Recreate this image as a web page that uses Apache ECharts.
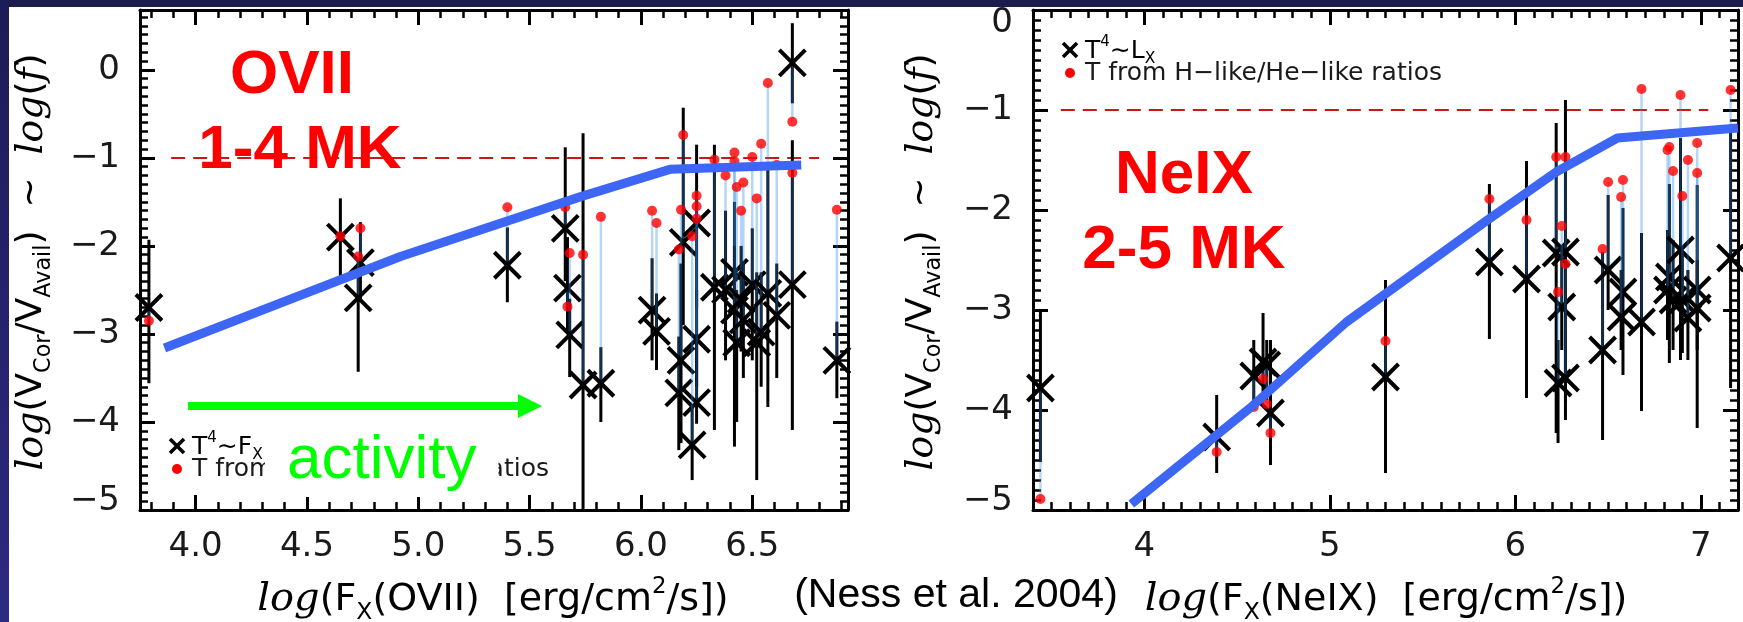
<!DOCTYPE html>
<html>
<head>
<meta charset="utf-8">
<title>Coronal filling factors: OVII and NeIX</title>
<script src="https://cdn.jsdelivr.net/npm/echarts@6/dist/echarts.min.js"></script>
<style>
  html, body { margin: 0; padding: 0; background: #ffffff; }
  #chart { width: 1743px; height: 622px; }
</style>
</head>
<body>
<div id="chart"></div>
<script>
// ---- OVII panel: log flux, log filling factor (T^4 ~ Fx), error range, value from line ratios
const oviiX     = [3.79, 4.65, 4.74, 4.73, 5.40, 5.66, 5.67, 5.68, 5.74, 5.82, 6.05, 6.07, 6.17, 6.19, 6.18, 6.25, 6.25, 6.25, 6.23, 6.33, 6.38, 6.42, 6.42, 6.43, 6.46, 6.45, 6.50, 6.52, 6.54, 6.57, 6.61, 6.68, 6.68, 6.88];
const oviiCross = [-2.70, -1.90, -2.19, -2.59, -2.22, -1.80, -2.48, -3.01, -3.58, -3.56, -2.73, -2.97, -3.67, -1.96, -3.30, -1.74, -3.06, -3.78, -4.26, -2.47, -2.50, -2.30, -2.73, -3.10, -2.84, -2.61, -2.44, -3.10, -2.98, -2.54, -2.79, -2.44, 0.08, -3.30];
const oviiErrLo = [-3.56, -2.36, -2.61, -3.43, -2.64, -2.40, -3.00, -3.49, -5.00, -4.00, -3.30, -3.41, -4.32, -2.90, -4.24, -2.70, -3.60, -4.02, -4.66, -4.09, -3.30, -3.00, -4.28, -4.00, -3.50, -3.20, -3.30, -4.66, -3.60, -3.83, -3.50, -4.09, -0.38, -3.73];
const oviiErrHi = [-1.93, -1.46, -1.73, -2.14, -1.79, -0.88, -1.90, -2.60, -0.72, -3.15, -2.14, -2.54, -3.03, -0.43, -2.20, -0.85, -2.50, -3.00, -3.80, -0.85, -1.60, -1.50, -2.00, -2.50, -2.20, -2.00, -1.80, -2.30, -2.30, -1.06, -2.20, -0.80, 0.53, -2.86];
const oviiRatio = [-2.85, -1.89, -1.80, -2.12, -1.56, -1.56, -2.69, -2.08, -2.10, -1.67, -1.60, -1.74, -2.04, -0.74, -1.59, -1.43, -1.55, -1.69, -1.89, -1.02, -1.20, -0.94, -1.04, -1.33, -1.28, -1.60, -0.99, -1.46, -0.84, -0.15, -1.08, -1.17, -0.59, -1.59];
const oviiModelX = [3.86, 4.92, 5.73, 6.13, 6.72];
const oviiModelY = [-3.16, -2.12, -1.44, -1.13, -1.08];
const oviiLimitX = [3.89, 6.80];

// ---- NeIX panel
const neixX     = [3.44, 4.39, 4.64, 4.59, 4.66, 4.68, 5.30, 5.86, 6.06, 6.22, 6.27, 6.25, 6.23, 6.27, 6.47, 6.50, 6.58, 6.57, 6.68, 6.83, 6.82, 6.85, 6.89, 6.90, 6.93, 6.98, 6.98, 7.16];
const neixCross = [-3.78, -4.27, -3.52, -3.66, -3.55, -4.03, -3.67, -2.52, -2.69, -2.43, -2.42, -2.97, -3.73, -3.68, -3.40, -2.60, -2.82, -3.07, -3.12, -2.67, -2.80, -2.90, -2.40, -2.90, -3.08, -2.80, -2.98, -2.48];
const neixErrLo = [-4.52, -4.63, -3.90, -4.00, -3.90, -4.55, -4.63, -3.29, -3.88, -4.23, -3.93, -3.40, -4.33, -4.10, -4.30, -3.00, -3.65, -3.40, -4.01, -3.53, -3.30, -3.40, -3.50, -3.43, -3.50, -4.18, -3.40, -3.78];
const neixErrHi = [-3.02, -3.85, -3.03, -3.30, -3.30, -3.30, -2.70, -1.74, -1.51, -1.13, -0.90, -2.40, -3.30, -3.20, -2.42, -1.85, -1.98, -2.60, -2.23, -1.74, -2.20, -2.30, -1.28, -2.40, -2.60, -1.75, -2.50, -1.20];
const neixRatio = [-4.89, -4.42, -3.69, -3.97, -3.94, -4.23, -3.31, -1.89, -2.10, -1.47, -1.47, -2.16, -2.82, -2.54, -2.39, -1.72, -1.70, -1.87, -0.79, -1.37, -1.40, -1.61, -0.85, -1.86, -1.50, -1.33, -1.63, -0.80];
const neixModelX = [3.93, 4.57, 5.09, 5.85, 6.22, 6.55, 7.20];
const neixModelY = [-4.94, -3.98, -3.12, -2.10, -1.62, -1.28, -1.18];
const neixLimitX = [3.55, 7.04];

const limitY = -1;

// axis ranges and tick steps
const oviiXRange = [3.75, 6.93], oviiXStep = 0.5;
const oviiYRange = [-5, 0.68];
const neixXRange = [3.4, 7.2],   neixXStep = 1;
const neixYRange = [-5, 0];
const yStep = 1;

const SANS = '"DejaVu Sans", "Liberation Sans", sans-serif';
const SERIF = '"DejaVu Serif", "Liberation Serif", serif';
const ARIAL = '"Liberation Sans", Arial, sans-serif';
const INK = '#1a1a1a';

function onStep(v, step) {
  const k = v / step;
  return Math.abs(k - Math.round(k)) < 1e-6;
}
function fmtX1(v) { return onStep(v, oviiXStep) ? v.toFixed(1) : ''; }
function fmtX0(v) { return onStep(v, neixXStep) ? String(Math.round(v)) : ''; }
// y labels: the end labels sit a little inside the frame
function makeFmtY(range) {
  return function (v) {
    if (!onStep(v, yStep)) return '';
    const n = Math.round(v);
    const s = n < 0 ? '\u2212' + Math.abs(n) : String(n);
    if (Math.abs(n - range[0]) < 1e-6) return '{lo|' + s + '}';
    if (Math.abs(n - range[1]) < 1e-6) return '{hi|' + s + '}';
    return s;
  };
}
const labelRich = {
  lo: { fontFamily: SANS, fontSize: 34, color: INK, padding: [0, 0, 18, 0] },
  hi: { fontFamily: SANS, fontSize: 34, color: INK, padding: [26, 0, 0, 0] }
};

// framed IDL-style axis: inward major ticks plus a fine minor comb
function axisBase(range, step, minorSplit, pos, showLabel, fmt, grid) {
  return {
    type: 'value', gridIndex: grid, position: pos,
    min: range[0], max: range[1], minInterval: step, maxInterval: step,
    axisLine: { show: true, onZero: false, lineStyle: { color: '#000', width: 3 } },
    axisTick: { show: true, inside: true, length: 15, lineStyle: { color: '#000', width: 3 } },
    minorTick: { show: true, splitNumber: minorSplit, length: 8, lineStyle: { color: '#000', width: 2.5 } },
    splitLine: { show: false }, minorSplitLine: { show: false },
    axisLabel: { show: showLabel, formatter: fmt, fontFamily: SANS, fontSize: 34, color: INK, margin: 20, rich: labelRich }
  };
}

function renderStar(params, api) {
  const x = api.value(0);
  const c = api.coord([x, api.value(1)]);
  const lo = api.coord([x, api.value(2)]);
  const hi = api.coord([x, api.value(3)]);
  const r = api.coord([x, api.value(4)]);
  const h = 13;
  return {
    type: 'group',
    children: [
      { type: 'line', shape: { x1: lo[0], y1: lo[1], x2: hi[0], y2: hi[1] }, style: { stroke: '#000', lineWidth: 3 } },
      { type: 'line', shape: { x1: r[0], y1: r[1], x2: c[0], y2: c[1] }, style: { stroke: 'rgba(46,137,229,0.35)', lineWidth: 2.5 } },
      { type: 'line', shape: { x1: c[0] - h, y1: c[1] - h, x2: c[0] + h, y2: c[1] + h }, style: { stroke: '#000', lineWidth: 4 } },
      { type: 'line', shape: { x1: c[0] - h, y1: c[1] + h, x2: c[0] + h, y2: c[1] - h }, style: { stroke: '#000', lineWidth: 4 } }
    ]
  };
}

function zip(xs, ...cols) { return xs.map((x, i) => [x].concat(cols.map(c => c[i]))); }

function panelSeries(ax, X, C, LO, HI, R, MX, MY, LX) {
  return [
    { type: 'line', xAxisIndex: ax, yAxisIndex: ax, z: 1, silent: true, showSymbol: false,
      data: [[LX[0], limitY], [LX[1], limitY]],
      lineStyle: { color: '#c81818', width: 2, type: [14, 8] } },
    { type: 'custom', xAxisIndex: ax, yAxisIndex: ax, z: 2, silent: true,
      renderItem: renderStar, data: zip(X, C, LO, HI, R) },
    { type: 'scatter', xAxisIndex: ax, yAxisIndex: ax, z: 3, silent: true,
      symbol: 'circle', symbolSize: 10, itemStyle: { color: '#ff0000' },
      data: zip(X, R) },
    { type: 'line', xAxisIndex: ax, yAxisIndex: ax, z: 4, silent: true, showSymbol: false,
      data: zip(MX, MY), lineStyle: { color: '#3d66f5', width: 9, cap: 'butt' } }
  ];
}

// rich styles for axis titles and legend entries
function richSet(size) {
  return {
    n:   { fontFamily: SANS, fontSize: size, lineHeight: size * 1.3, color: INK },
    it:  { fontFamily: SERIF, fontStyle: 'italic', fontSize: size * 1.05, lineHeight: size * 1.3, color: INK },
    sub: { fontFamily: SANS, fontSize: size * 0.62, lineHeight: size * 0.62, verticalAlign: 'bottom', color: INK },
    sup: { fontFamily: SANS, fontSize: size * 0.6, lineHeight: size * 0.75, verticalAlign: 'top', color: INK }
  };
}

function titleText(x, y, text, size, rot) {
  return { type: 'text', x: x, y: y, rotation: rot || 0, z: 10, silent: true,
    style: { text: text, rich: richSet(size), align: 'center', verticalAlign: 'middle',
             textAlign: 'center', textVerticalAlign: 'middle' } };
}

function crossMark(cx, cy, h) {
  return { type: 'group', z: 10, silent: true, children: [
    { type: 'line', shape: { x1: cx - h, y1: cy - h, x2: cx + h, y2: cy + h }, style: { stroke: '#000', lineWidth: 3.5 } },
    { type: 'line', shape: { x1: cx - h, y1: cy + h, x2: cx + h, y2: cy - h }, style: { stroke: '#000', lineWidth: 3.5 } }
  ] };
}

function legendBlock(x, y, flux) {
  return [
    crossMark(x, y, 7),
    { type: 'text', x: x + 15, y: y + 1, z: 10, silent: true,
      style: { text: '{n|T}{sup|4}{n|\u223C' + flux + '}{sub|X}', rich: richSet(25), align: 'left', verticalAlign: 'middle', textAlign: 'left', textVerticalAlign: 'middle' } },
    { type: 'circle', shape: { cx: x, cy: y + 23, r: 5 }, style: { fill: '#ff0000' }, z: 10, silent: true },
    { type: 'text', x: x + 15, y: y + 23, z: 10, silent: true,
      style: { text: 'T from H\u2212like/He\u2212like ratios', font: '25px ' + SANS, fill: INK, align: 'left', verticalAlign: 'middle', textAlign: 'left', textVerticalAlign: 'middle' } }
  ];
}

function bigLabel(x, y, text, color, weight, size) {
  return { type: 'text', x: x, y: y, z: 12, silent: true,
    style: { text: text, font: weight + ' ' + size + 'px ' + ARIAL, fill: color,
             align: 'center', verticalAlign: 'middle', textAlign: 'center', textVerticalAlign: 'middle' } };
}

const chart = echarts.init(document.getElementById('chart'), null, { renderer: 'canvas' });

const yTitle = '{it|log}{n|(V}{sub|Cor}{n|/V}{sub|Avail}{n|)  \u223C  }{it|log}{n|(}{it|f}{n|)}';

const option = {
  animation: false,
  backgroundColor: '#ffffff',
  grid: [
    { left: 140, top: 10, width: 708, height: 500 },
    { left: 1033, top: 10, width: 705, height: 500 }
  ],
  xAxis: [
    axisBase(oviiXRange, oviiXStep, 5, 'bottom', true, fmtX1, 0),
    axisBase(oviiXRange, oviiXStep, 5, 'top', false, fmtX1, 0),
    axisBase(neixXRange, neixXStep, 10, 'bottom', true, fmtX0, 1),
    axisBase(neixXRange, neixXStep, 10, 'top', false, fmtX0, 1)
  ],
  yAxis: [
    axisBase(oviiYRange, yStep, 10, 'left', true, makeFmtY(oviiYRange), 0),
    axisBase(oviiYRange, yStep, 10, 'right', false, null, 0),
    axisBase(neixYRange, yStep, 10, 'left', true, makeFmtY(neixYRange), 1),
    axisBase(neixYRange, yStep, 10, 'right', false, null, 1)
  ],
  series: [].concat(
    panelSeries(0, oviiX, oviiCross, oviiErrLo, oviiErrHi, oviiRatio, oviiModelX, oviiModelY, oviiLimitX),
    panelSeries(2, neixX, neixCross, neixErrLo, neixErrHi, neixRatio, neixModelX, neixModelY, neixLimitX)
  ),
  graphic: { elements: [].concat(
    [
      // slide frame
      { type: 'rect', z: 20, silent: true, shape: { x: 0, y: 0, width: 1743, height: 7 }, style: { fill: '#1b1b4d' } },
      { type: 'rect', z: 20, silent: true, shape: { x: 0, y: 0, width: 9, height: 622 },
        style: { fill: { type: 'linear', x: 0, y: 0, x2: 0, y2: 1, colorStops: [{ offset: 0, color: '#1c1c56' }, { offset: 1, color: '#2d2a82' }] } } },
      // axis titles
      titleText(32, 262, yTitle, 36, Math.PI / 2),
      titleText(922, 262, yTitle, 36, Math.PI / 2),
      titleText(493, 600, '{it|log}{n|(F}{sub|X}{n|(OVII)  [erg/cm}{sup|2}{n|/s])}', 38),
      titleText(1386, 600, '{it|log}{n|(F}{sub|X}{n|(NeIX)  [erg/cm}{sup|2}{n|/s])}', 38)
    ],
    legendBlock(177, 446, 'F'),
    legendBlock(1070, 50, 'L'),
    [
      bigLabel(292, 76, 'OVII', '#ff0000', 'bold', 62),
      bigLabel(300, 151, '1-4 MK', '#ff0000', 'bold', 62),
      bigLabel(1184, 176, 'NeIX', '#ff0000', 'bold', 62),
      bigLabel(1184, 251, '2-5 MK', '#ff0000', 'bold', 62),
      // activity arrow
      { type: 'line', z: 12, silent: true, shape: { x1: 188, y1: 406, x2: 521, y2: 406 }, style: { stroke: '#00ff00', lineWidth: 8 } },
      { type: 'polygon', z: 12, silent: true, shape: { points: [[518, 394], [542, 406], [518, 418]] }, style: { fill: '#00ff00' } },
      { type: 'text', x: 265, y: 461, z: 13, silent: true,
        style: { text: 'activity', font: '62px ' + ARIAL, fill: '#00ff00', backgroundColor: '#ffffff',
                 padding: [5, 22, 5, 22], lineHeight: 62,
                 align: 'left', verticalAlign: 'middle', textAlign: 'left', textVerticalAlign: 'middle' } },
      { type: 'text', x: 956, y: 596, z: 12, silent: true,
        style: { text: '(Ness et al. 2004)', font: '41px ' + ARIAL, fill: '#000000',
                 align: 'center', verticalAlign: 'middle', textAlign: 'center', textVerticalAlign: 'middle' } }
    ]
  ) }
};

chart.setOption(option);
</script>
</body>
</html>
